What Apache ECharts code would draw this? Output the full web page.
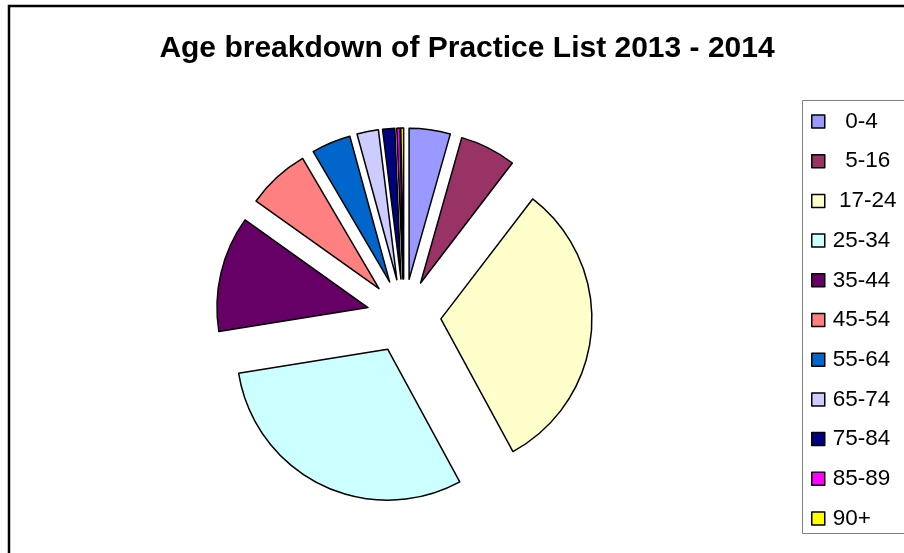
<!DOCTYPE html>
<html>
<head>
<meta charset="utf-8">
<script src="https://cdn.jsdelivr.net/npm/echarts@6/dist/echarts.min.js"></script>
<style>
html,body{margin:0;padding:0;background:#fff;}
#chart{width:904px;height:553px;}
</style>
</head>
<body>
<div id="chart"></div>
<script>
const categories = ['0-4', '5-16', '17-24', '25-34', '35-44', '45-54', '55-64', '65-74', '75-84', '85-89', '90+'];
const legendLabels = ['  0-4', '  5-16', ' 17-24', '25-34', '35-44', '45-54', '55-64', '65-74', '75-84', '85-89', '90+'];
const shares = [4.4, 6.0, 31.7, 30.4, 12.4, 6.7, 4.2, 2.3, 1.3, 0.35, 0.3];
const colors = ['#9999FF', '#993366', '#FFFFCC', '#CCFFFF', '#660066', '#FF8080', '#0066CC', '#CCCCFF', '#000080', '#FF00FF', '#FFFF00'];
const titleText = 'Age breakdown of Practice List 2013 - 2014';

const chart = echarts.init(document.getElementById('chart'), null, {renderer: 'canvas'});
const font = 'Arial, "Liberation Sans", sans-serif';
const data = categories.map((c, i) => ({
  name: legendLabels[i],
  value: shares[i],
  selected: true,
  itemStyle: {color: colors[i]}
}));

chart.setOption({
  animation: false,
  backgroundColor: '#fff',
  title: {
    text: titleText,
    left: 462, top: 29, textAlign: 'center',
    textStyle: {fontFamily: font, fontWeight: 'bold', fontSize: 30, color: '#000'}
  },
  legend: {
    orient: 'vertical',
    left: 806, top: 105,
    padding: 5,
    itemWidth: 13, itemHeight: 13, itemGap: 16.7,
    icon: 'rect',
    selectedMode: false,
    itemStyle: {borderColor: '#000', borderWidth: 1.5},
    textStyle: {fontFamily: font, fontSize: 22.5, color: '#000', padding: [0, 0, 0, 3]},
    data: legendLabels
  },
  graphic: [
    {type: 'rect', shape: {x: 9, y: 6, width: 1000, height: 1000}, style: {fill: null, stroke: '#000', lineWidth: 2.5}, silent: true},
    {type: 'rect', shape: {x: 802.5, y: 100.5, width: 200, height: 433}, style: {fill: null, stroke: '#808080', lineWidth: 1}, silent: true}
  ],
  series: [{
    type: 'pie',
    center: [404, 316],
    radius: 151,
    startAngle: 90,
    clockwise: true,
    selectedMode: 'multiple',
    selectedOffset: 37,
    label: {show: false},
    labelLine: {show: false},
    emphasis: {disabled: true},
    itemStyle: {borderColor: '#000', borderWidth: 1.5},
    select: {itemStyle: {borderColor: '#000', borderWidth: 1.5}},
    data: data
  }]
});
</script>
</body>
</html>
